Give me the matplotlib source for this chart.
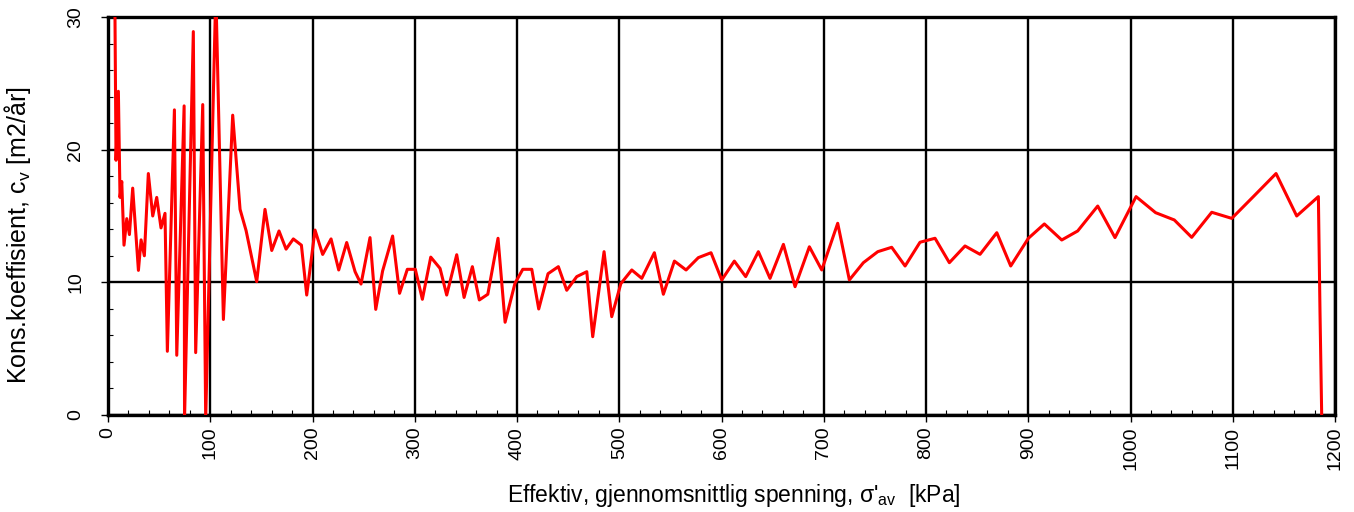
import numpy as np
import matplotlib
matplotlib.use("Agg")
import matplotlib.pyplot as plt
from matplotlib.ticker import MultipleLocator

plt.rcParams['font.family'] = ['Liberation Sans', 'DejaVu Sans']
plt.rcParams['mathtext.fontset'] = 'custom'
plt.rcParams['mathtext.rm'] = 'Liberation Sans'
plt.rcParams['mathtext.it'] = 'Liberation Sans:italic'

# effective mean stress [kPa]
stress = [6.4, 7.8, 10.1, 11.7, 13.4, 15.6, 18.3, 20.9, 24.1, 29.7, 32.3, 35.5,
          39.4, 43.7, 47.6, 51.8, 55.7, 58.0, 64.9, 67.2, 74.4, 74.8, 83.4, 85.7,
          92.6, 95.5, 105.4, 112.8, 121.9, 129.1, 135.0, 145.4, 153.5, 160.1, 167.2,
          174.1, 181.2, 189.1, 194.3, 202.4, 209.9, 218.1, 225.6, 233.4, 241.6,
          247.4, 256.2, 261.8, 268.5, 278.3, 285.1, 292.7, 300.5, 307.4, 315.6,
          324.7, 331.2, 341.0, 348.2, 356.3, 363.1, 371.4, 381.4, 388.3, 398.0,
          405.6, 414.4, 421.2, 430.3, 440.4, 448.6, 458.4, 468.2, 474.0, 485.1,
          492.6, 501.5, 512.2, 522.0, 534.3, 543.1, 553.9, 565.3, 577.3, 589.7,
          600.2, 612.5, 623.6, 636.0, 647.4, 660.5, 671.9, 685.9, 698.0, 713.6,
          725.0, 738.7, 752.8, 766.4, 779.5, 794.1, 808.8, 822.8, 838.1, 852.8,
          869.2, 882.8, 900.1, 915.7, 932.7, 948.3, 967.9, 984.8, 1005.4, 1024.5,
          1042.8, 1059.8, 1079.4, 1099.0, 1120.1, 1142.3, 1162.5, 1183.7, 1185.3,
          1187.0]
# consolidation coefficient cv [m2/year]
cv = [34.0, 19.2, 24.4, 16.4, 17.6, 12.8, 14.8, 13.6, 17.1, 10.9, 13.2, 12.0,
      18.2, 15.0, 16.4, 14.1, 15.2, 4.8, 23.0, 4.5, 23.3, -0.3, 28.9, 4.7,
      23.4, -0.3, 32.0, 7.2, 22.6, 15.5, 13.9, 10.05, 15.5, 12.4, 13.87,
      12.5, 13.27, 12.8, 9.04, 13.94, 12.1, 13.27, 10.93, 13.0, 10.8,
      9.87, 13.37, 7.96, 10.85, 13.49, 9.17, 10.98, 10.98, 8.72, 11.9,
      11.05, 9.04, 12.08, 8.86, 11.18, 8.67, 9.1, 13.32, 6.99, 9.93,
      10.98, 10.98, 7.99, 10.65, 11.18, 9.4, 10.43, 10.8, 5.9, 12.31,
      7.41, 9.9, 10.93, 10.3, 12.23, 9.1, 11.6, 10.93, 11.86, 12.23,
      10.18, 11.6, 10.43, 12.31, 10.3, 12.86, 9.67, 12.68, 10.93, 14.45,
      10.18, 11.48, 12.31, 12.64, 11.23, 13.02, 13.32, 11.48, 12.74, 12.11,
      13.74, 11.23, 13.32, 14.4, 13.19, 13.87, 15.75, 13.37, 16.46, 15.25,
      14.7, 13.39, 15.28, 14.82, 16.46, 18.2, 15.0, 16.46, 7.7,
      -0.3]

fig = plt.figure(figsize=(13.54, 5.12), dpi=100)
ax = fig.add_axes([0.0798, 0.1895, 0.9062, 0.7773])

ax.plot(stress, cv, color='red', linewidth=2.2, zorder=3)

ax.set_xlim(0, 1200)
ax.set_ylim(0, 30)
ax.xaxis.set_major_locator(MultipleLocator(100))
ax.xaxis.set_minor_locator(MultipleLocator(20))
ax.yaxis.set_major_locator(MultipleLocator(10))
ax.yaxis.set_minor_locator(MultipleLocator(2))

ax.grid(which='major', color='black', linewidth=1.7)
ax.set_axisbelow(True)
for s in ax.spines.values():
    s.set_linewidth(2.4)

ax.tick_params(which='major', direction='out', length=5, width=1, labelsize=14)
ax.tick_params(which='minor', direction='in', length=3.5, width=0.8)
ax.tick_params(axis='y', which='major', pad=12)
ax.tick_params(axis='x', labelrotation=90)
for lab in ax.get_yticklabels():
    lab.set_rotation(90)
    lab.set_va('center')

ax.set_xlabel("Effektiv, gjennomsnittlig spenning, σ'$_{\\mathrm{av}}$  [kPa]", fontsize=16.5)
ax.xaxis.set_label_coords(0.51, -0.168)
ax.set_ylabel("Kons.koeffisient, c$_{\\mathrm{v}}$ [m2/år]", fontsize=18)
ax.yaxis.set_label_coords(-0.061, 0.452)

fig.savefig("out.png", dpi=100)
